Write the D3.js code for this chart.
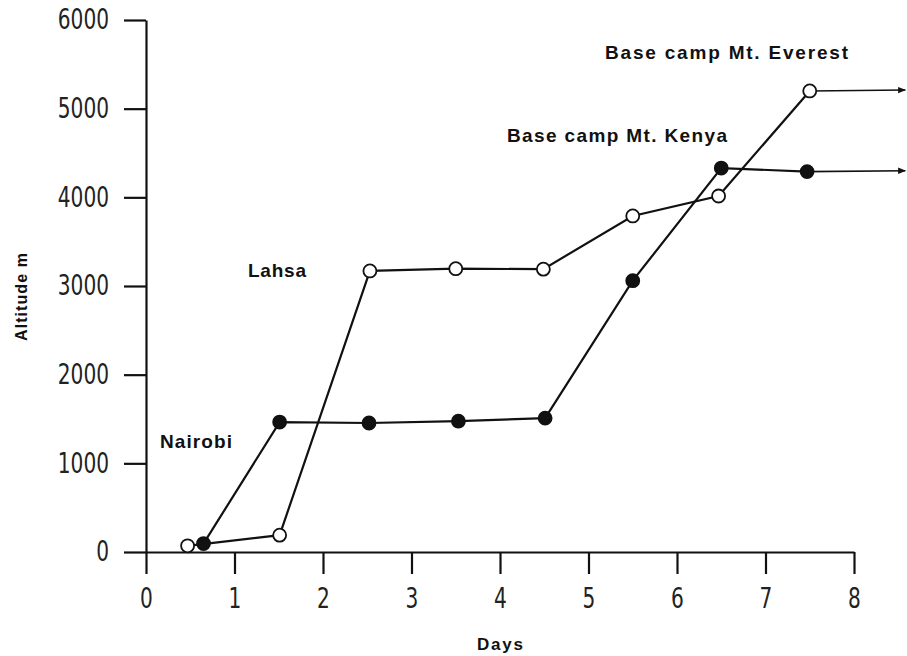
<!DOCTYPE html>
<html>
<head>
<meta charset="utf-8">
<script src="https://cdn.jsdelivr.net/npm/d3@7"></script>
<style>
  html, body { margin: 0; padding: 0; background: #ffffff; }
  svg { display: block; }
  .tick text { font-family: "Liberation Sans Narrow", "DejaVu Sans", sans-serif; font-stretch: condensed; fill: #222; }
  .lbl { font-family: "Liberation Sans", Arial, Helvetica, sans-serif; font-weight: bold; fill: #111; }
</style>
</head>
<body>
<svg id="chart" width="907" height="656"></svg>
<script>
// ---- data ----
const xTicks = [0, 1, 2, 3, 4, 5, 6, 7, 8];
const yTicks = [0, 1000, 2000, 3000, 4000, 5000, 6000];

// Open circles: route to Base camp Mt. Everest (via Lahsa)
const everestDays = [0.47, 1.51, 2.53, 3.5, 4.49, 5.5, 6.47, 7.5];
const everestAlt  = [70, 190, 3170, 3195, 3190, 3790, 4015, 5200];
// Filled circles: route to Base camp Mt. Kenya (via Nairobi)
const kenyaDays = [0.65, 1.51, 2.52, 3.53, 4.51, 5.5, 6.5, 7.47];
const kenyaAlt  = [95, 1465, 1455, 1475, 1510, 3060, 4330, 4290];
// continuation beyond the last measured day
const contDay = 8.58;
const everestContAlt = 5210;
const kenyaContAlt = 4300;

const placeLabels = ["Nairobi", "Lahsa", "Base camp Mt. Kenya", "Base camp Mt. Everest"];
const xTitle = "Days";
const yTitle = "Altitude m";

// ---- layout ----
const svg = d3.select("#chart");
const x = d3.scaleLinear().domain([0, 8]).range([146, 854]);
const y = d3.scaleLinear().domain([0, 6000]).range([552, 20]);

svg.append("rect").attr("width", 907).attr("height", 656).attr("fill", "#ffffff");

const defs = svg.append("defs");
defs.append("marker")
  .attr("id", "arrow")
  .attr("viewBox", "0 0 10 10")
  .attr("refX", 9).attr("refY", 5)
  .attr("markerWidth", 5).attr("markerHeight", 5)
  .attr("orient", "auto")
  .append("path").attr("d", "M0,1 L10,5 L0,9 Z").attr("fill", "#111");

// axes
const xAxis = d3.axisBottom(x).tickValues(xTicks).tickFormat(d3.format("d"))
  .tickSize(22).tickSizeOuter(0).tickPadding(14);
const yAxis = d3.axisLeft(y).tickValues(yTicks).tickFormat(d3.format("d"))
  .tickSize(22).tickSizeOuter(0).tickPadding(15);

const gx = svg.append("g").attr("transform", `translate(0,${y(0)})`).call(xAxis);
const gy = svg.append("g").attr("transform", `translate(${x(0)},0)`).call(yAxis);

[gx, gy].forEach(g => {
  g.select(".domain").attr("stroke", "#111").attr("stroke-width", 2.2);
  g.selectAll(".tick line").attr("stroke", "#111").attr("stroke-width", 2.2);
  g.selectAll(".tick text")
    .style("font-size", "28px")
    .attr("textLength", function () { return this.textContent.length * 12.8; })
    .attr("lengthAdjust", "spacingAndGlyphs");
});

// lines
const line = d3.line().x(d => x(d[0])).y(d => y(d[1]));
const everest = everestDays.map((d, i) => [d, everestAlt[i]]);
const kenya = kenyaDays.map((d, i) => [d, kenyaAlt[i]]);

function drawSeries(pts, contAlt, filled) {
  const last = pts[pts.length - 1];
  svg.append("path")
    .datum([last, [contDay, contAlt]])
    .attr("d", line)
    .attr("fill", "none").attr("stroke", "#111").attr("stroke-width", 1.6)
    .attr("marker-end", "url(#arrow)");
  svg.append("path")
    .datum(pts)
    .attr("d", line)
    .attr("fill", "none").attr("stroke", "#111").attr("stroke-width", 2.2);
  svg.append("g").selectAll("circle")
    .data(pts).join("circle")
    .attr("cx", d => x(d[0])).attr("cy", d => y(d[1]))
    .attr("r", 6.5)
    .attr("fill", filled ? "#111" : "#ffffff")
    .attr("stroke", "#111").attr("stroke-width", 1.8);
}
drawSeries(everest, everestContAlt, false);
drawSeries(kenya, kenyaContAlt, true);

// place labels
const labelPos = [
  { x: 160, y: 448, len: 72 },
  { x: 248, y: 277, len: 58 },
  { x: 507, y: 142, len: 220 },
  { x: 605, y: 59,  len: 243 }
];
placeLabels.forEach((t, i) => {
  svg.append("text").attr("class", "lbl")
    .attr("x", labelPos[i].x).attr("y", labelPos[i].y)
    .attr("textLength", labelPos[i].len).attr("lengthAdjust", "spacing")
    .style("font-size", "19px")
    .text(t);
});

// axis titles
svg.append("text").attr("class", "lbl")
  .attr("x", 500).attr("y", 650).attr("text-anchor", "middle")
  .attr("textLength", 46).attr("lengthAdjust", "spacing")
  .style("font-size", "17px").text(xTitle);
svg.append("text").attr("class", "lbl")
  .attr("transform", "translate(27,297) rotate(-90)")
  .attr("text-anchor", "middle")
  .attr("textLength", 88).attr("lengthAdjust", "spacing")
  .style("font-size", "16px").text(yTitle);
</script>
</body>
</html>
